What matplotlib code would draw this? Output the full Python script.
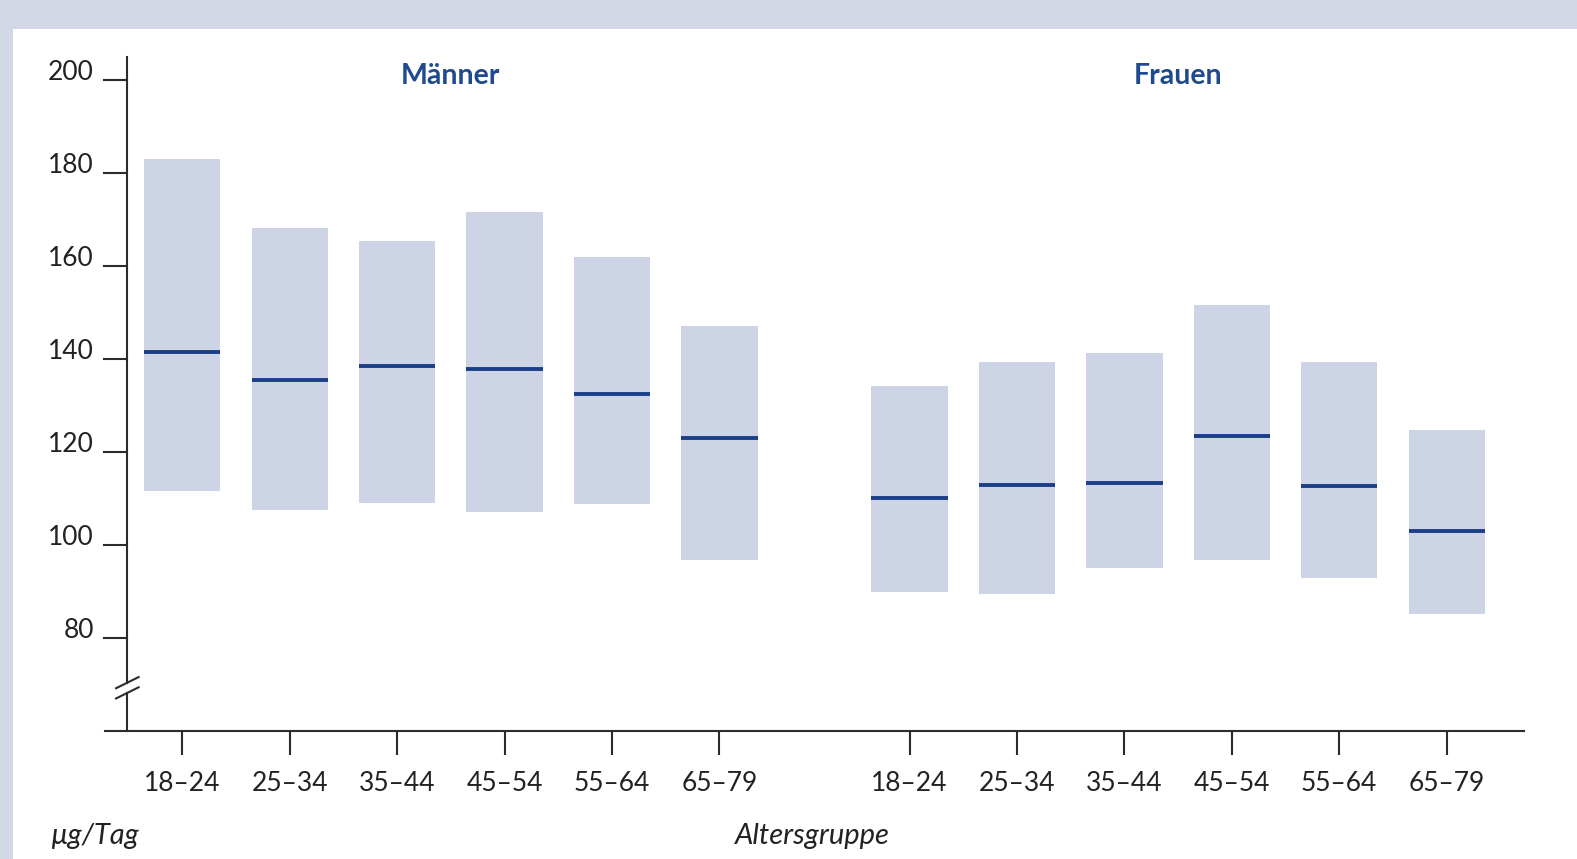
import matplotlib.pyplot as plt
from matplotlib.patches import Rectangle

# Werte je Altersgruppe (µg/Tag): unteres Ende, Median, oberes Ende
gruppen = ["18–24", "25–34", "35–44", "45–54", "55–64", "65–79"]

maenner_unten = [111.7, 107.6, 109.1, 107.1, 108.8, 96.7]
maenner_median = [141.5, 135.6, 138.5, 137.9, 132.6, 123.1]
maenner_oben = [183.0, 168.3, 165.5, 171.6, 161.9, 147.2]

frauen_unten = [89.8, 89.5, 95.1, 96.8, 93.0, 85.2]
frauen_median = [110.2, 112.9, 113.4, 123.4, 112.7, 103.0]
frauen_oben = [134.3, 139.4, 141.4, 151.6, 139.4, 124.8]

y_ticks = [80, 100, 120, 140, 160, 180, 200]

box_color = "#cdd4e6"
median_color = "#1b3f86"
title_color = "#1f4a90"
axis_color = "#2b2b2b"
font = "Lato"

fig = plt.figure(figsize=(15.77, 8.59), dpi=100)
fig.patch.set_facecolor("#d3d8e6")
fig.patches.append(Rectangle((13 / 1577, 0), 1, 1 - 29 / 859, transform=fig.transFigure,
                             facecolor="white", edgecolor="none", zorder=-10))

ax = fig.add_axes([105 / 1577, 1 - 731 / 859, (1524 - 105) / 1577, (731 - 57) / 859])
ax.set_facecolor("none")

offset = 6.77
x_m = [i for i in range(len(gruppen))]
x_f = [i + offset for i in range(len(gruppen))]
w = 0.71

for xs, lo, med, hi in [(x_m, maenner_unten, maenner_median, maenner_oben),
                        (x_f, frauen_unten, frauen_median, frauen_oben)]:
    ax.bar(xs, [h - l for h, l in zip(hi, lo)], bottom=lo, width=w,
           color=box_color, edgecolor="none", zorder=1)
    ax.hlines(med, [x - w / 2 for x in xs], [x + w / 2 for x in xs],
              color=median_color, lw=2.8, zorder=2)

x_axis = -0.512
ax.set_xlim(-0.72, 12.49)
ax.set_ylim(60, 205)

for s in ["top", "right", "left"]:
    ax.spines[s].set_visible(False)
ax.spines["bottom"].set_color(axis_color)
ax.spines["bottom"].set_linewidth(1.5)

# y-Achse mit Achsenbruch
y_lo, y_hi = 68.2, 70.4
ax.plot([x_axis, x_axis], [60, y_lo], color=axis_color, lw=1.5, clip_on=False, zorder=3)
ax.plot([x_axis, x_axis], [y_hi, 205], color=axis_color, lw=1.5, clip_on=False, zorder=3)
dx, dy = 0.105, 1.2
for yc in [y_lo, y_hi]:
    ax.plot([x_axis - dx, x_axis + dx], [yc - dy, yc + dy], color=axis_color,
            lw=1.5, clip_on=False, zorder=3)

for v in y_ticks:
    ax.plot([x_axis - 0.215, x_axis], [v, v], color=axis_color, lw=1.5, clip_on=False)
ax.set_yticks(y_ticks)
ax.set_yticklabels([str(v) for v in y_ticks], fontfamily=font, fontsize=19, color="#222222",
                   va="baseline")
ax.tick_params(axis="y", length=0, pad=8)

ax.set_xticks(x_m + x_f)
ax.set_xticklabels(gruppen + gruppen, fontfamily=font, fontsize=19, color="#222222")
ax.tick_params(axis="x", direction="out", length=17, width=1.5, color=axis_color, pad=12)

ax.text(2.5, 200.9, "Männer", ha="center", va="center", fontfamily=font,
        fontweight="bold", fontsize=20.5, color=title_color)
ax.text(2.5 + offset, 200.9, "Frauen", ha="center", va="center", fontfamily=font,
        fontweight="bold", fontsize=20.5, color=title_color)

fig.text(50 / 1577, 1 - 836 / 859, "µg/Tag", ha="left", va="center", fontfamily=font,
         style="italic", fontsize=21, color="#222222")
fig.text(812 / 1577, 1 - 836 / 859, "Altersgruppe", ha="center", va="center",
         fontfamily=font, style="italic", fontsize=21, color="#222222")

fig.savefig("out.png", dpi=100, facecolor=fig.get_facecolor())
